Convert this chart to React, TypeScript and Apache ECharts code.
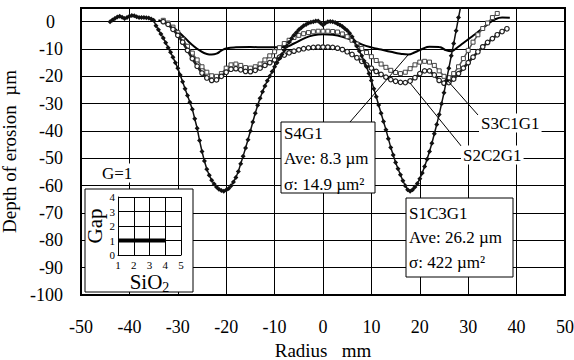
import React, { useEffect, useRef } from 'react';
import * as echarts from 'echarts';

const FONT = 'Liberation Serif';

const xMin = -50, xMax = 50, xStep = 10;
const yMin = -100, yMax = 5, yStep = 10;

const s1c3g1: number[][] = [
  [-44, 0], [-43.5, 0.6], [-43, 1.2], [-42.5, 1.7], [-42, 2], [-41.5, 1.6], [-41, 1.2], [-40.5, 1.5],
  [-40, 2], [-39.5, 2.3], [-39, 2.2], [-38.5, 1.8], [-38, 1.5], [-37.5, 1.5], [-37, 1.5], [-36.5, 1.4],
  [-36, 1.3], [-35.5, 1], [-35, 0.5], [-34.5, -1.5], [-34, -3], [-33.5, -4.5], [-33, -6], [-32.5, -7.7],
  [-32, -9.5], [-31.5, -11.2], [-31, -13], [-30.5, -15], [-30, -17], [-29.5, -19.5], [-29, -22], [-28.5, -24.5],
  [-28, -27], [-27.5, -29.5], [-27, -32], [-26.5, -35.5], [-26, -39], [-25.5, -43.5], [-25, -47.5], [-24.5, -51],
  [-24, -54], [-23.5, -56.2], [-23, -58], [-22.5, -59.4], [-22, -60.5], [-21.5, -61.3], [-21, -61.8], [-20.5, -62],
  [-20, -61.6], [-19.5, -61], [-19, -60], [-18.5, -58.7], [-18, -57], [-17.5, -54.8], [-17, -52], [-16.5, -49.2],
  [-16, -46.2], [-15.5, -43.2], [-15, -40], [-14.5, -36.7], [-14, -33.5], [-13.5, -30.6], [-13, -28], [-12.5, -25.6],
  [-12, -23.5], [-11.5, -21.6], [-11, -20], [-10.5, -18.2], [-10, -16.5], [-9.5, -15], [-9, -13.5], [-8.5, -12],
  [-8, -10.5], [-7.5, -9], [-7, -7.5], [-6.5, -6.2], [-6, -5], [-5.5, -4], [-5, -3], [-4.5, -2.2], [-4, -1.5],
  [-3.5, -1], [-3, -0.5], [-2.5, -0.2], [-2, 0], [-1.5, 0.2], [-1, 0.2], [-0.5, -0.5], [0, -1.2], [0.5, -0.5],
  [1, 0], [1.5, 0.1], [2, 0], [2.5, -0.3], [3, -0.8], [3.5, -1.2], [4, -1.8], [4.5, -2.5], [5, -3.2],
  [5.5, -4.2], [6, -5.5], [6.5, -7.2], [7, -9], [7.5, -10.7], [8, -12.5], [8.5, -14.4], [9, -16.5], [9.5, -19],
  [10, -21.5], [10.5, -24.5], [11, -27.5], [11.5, -30.5], [12, -33.5], [12.5, -36.5], [13, -39.5], [13.5, -42.8],
  [14, -46], [14.5, -48.8], [15, -51.5], [15.5, -53.8], [16, -56], [16.5, -58.2], [17, -60], [17.5, -61.5],
  [18, -62], [18.5, -61.5], [19, -60.5], [19.5, -59.2], [20, -57.5], [20.5, -55.4], [21, -53], [21.5, -50.3],
  [22, -47.5], [22.5, -44.5], [23, -41], [23.5, -37.6], [24, -34], [24.5, -30], [25, -26], [25.5, -21.5],
  [26, -17], [26.5, -12.5], [27, -8], [27.5, -3.3], [28, 1.5], [28.5, 6],
];

const s2c2g1: number[][] = [
  [-33, 0], [-32, -1], [-31, -2.8], [-30, -5], [-29, -7.5], [-28, -10.5], [-27, -13.5], [-26, -16.3],
  [-25, -18.8], [-24, -20.6], [-23, -21.5], [-22, -21.3], [-21, -20], [-20, -18.5], [-19, -17.4], [-18, -17.2],
  [-17, -17.6], [-16, -18.2], [-15, -18.3], [-14, -17.8], [-13, -17], [-12, -16], [-11, -15], [-10, -14],
  [-9, -13], [-8, -12.2], [-7, -11.4], [-6, -10.8], [-5, -10.3], [-4, -9.9], [-3, -9.6], [-2, -9.4],
  [-1, -9.3], [0, -9.3], [1, -9.3], [2, -9.4], [3, -9.7], [4, -10.2], [5, -11], [6, -12], [7, -13.2],
  [8, -14.5], [9, -15.8], [10, -17], [11, -18.2], [12, -19.3], [13, -20.3], [14, -21.2], [15, -21.8],
  [16, -22.2], [17, -22.3], [18, -21.7], [19, -20.5], [20, -19], [21, -18], [22, -18], [23, -19.5],
  [24, -21.5], [25, -22.5], [26, -22.3], [27, -21], [28, -19], [29, -17], [30, -15], [31, -13], [32, -11],
  [33, -9.2], [34, -7.6], [35, -6.2], [36, -4.8], [37, -3.6], [38, -2.6],
];

const s3c1g1: number[][] = [
  [-33, 0.5], [-32, -0.5], [-31, -2], [-30, -4], [-29, -6.5], [-28, -9], [-27, -11.5], [-26, -14],
  [-25, -16.5], [-24, -18.5], [-23, -19.8], [-22, -20], [-21, -19], [-20, -17], [-19, -15.8], [-18, -15.5],
  [-17, -16], [-16, -16.8], [-15, -17], [-14, -16.5], [-13, -15.5], [-12, -14], [-11, -12.5], [-10, -11],
  [-9, -9.5], [-8, -8], [-7, -6.8], [-6, -5.8], [-5, -5], [-4, -4.4], [-3, -4], [-2, -3.7], [-1, -3.5],
  [0, -3.5], [1, -3.5], [2, -3.6], [3, -3.8], [4, -4.5], [5, -5.5], [6, -6.8], [7, -8.2], [8, -9.8],
  [9, -11.3], [10, -12.8], [11, -14.2], [12, -15.5], [13, -16.7], [14, -17.8], [15, -18.6], [16, -19],
  [17, -18.5], [18, -17.2], [19, -15.8], [20, -14.8], [21, -14.5], [22, -14.8], [23, -16], [24, -18],
  [25, -20], [26, -20.5], [27, -19], [28, -16.5], [29, -13.5], [30, -10.5], [31, -7.5], [32, -4.8],
  [33, -2.5], [34, -0.5], [35, 1.5], [36, 3],
];

const s4g1: number[][] = [
  [-34, 0.5], [-32, -1], [-30, -3.5], [-28.5, -6], [-27, -8.5], [-25.5, -10.5], [-24, -11.8], [-23, -12],
  [-22, -11.7], [-21, -10.6], [-20, -9.8], [-18, -9.4], [-15, -9.3], [-12, -9.4], [-10, -9.4], [-8, -9.3],
  [-6, -8], [-4, -6.2], [-2, -5], [0, -4.6], [2, -4.8], [4, -5.5], [6, -6.8], [8, -8.3], [10, -9.4],
  [12, -10.2], [14, -11], [16, -11.7], [17.6, -12], [19, -11.2], [20.5, -10], [22, -9.2], [24, -9.3],
  [25.5, -10.5], [26.5, -10.8], [27.5, -9.8], [29, -7.8], [30.5, -5.8], [32, -3.8], [34, -1], [35.5, 0.8],
  [37, 1.5], [38.6, 1.4],
];

const insetGap: number[][] = [[1, 1], [4, 1]];

const yAxisName = 'Depth of erosion\u00a0\u00a0µm';
const xAxisName = 'Radius\u00a0\u00a0\u00a0mm';

export default function App() {
  const ref = useRef<HTMLDivElement>(null);
  useEffect(() => {
    if (!ref.current) return;
    const chart = echarts.init(ref.current, undefined, { renderer: 'svg' });
    const txt = (x: number, y: number, text: string, extra: any = {}) => ({
      type: 'text', x, y, z: 52,
      style: { text, fontFamily: FONT, fontSize: 17, fill: '#000', verticalAlign: 'middle', ...extra },
    });
    chart.setOption({
      animation: false,
      backgroundColor: '#fff',
      textStyle: { fontFamily: FONT, color: '#000' },
      grid: [
        { left: 81, right: 9, top: 8, bottom: 65, show: true, borderColor: '#000', borderWidth: 2, z: 3, containLabel: false, outerBoundsMode: 'none' },
        { left: 118, top: 197, width: 63, height: 58, show: false, z: 60, containLabel: false, outerBoundsMode: 'none' },
      ],
      xAxis: [
        {
          type: 'value', min: xMin, max: xMax, interval: xStep, gridIndex: 0,
          name: xAxisName, nameLocation: 'middle', nameGap: 44,
          nameTextStyle: { fontFamily: FONT, fontSize: 19, color: '#000' },
          axisLine: { show: false }, axisTick: { show: false },
          axisLabel: { fontFamily: FONT, fontSize: 18, color: '#000', margin: 23 },
          splitLine: { show: true, lineStyle: { color: '#000', width: 1 } },
        },
        {
          type: 'value', min: 1, max: 5, interval: 1, gridIndex: 1, z: 60,
          name: 'SiO{sub|2}', nameLocation: 'middle', nameGap: 15,
          nameTextStyle: {
            fontFamily: FONT, fontSize: 21, color: '#000',
            rich: { sub: { fontFamily: FONT, fontSize: 14, color: '#000', padding: [10, 0, 0, 0] } },
          },
          axisLine: { show: true, lineStyle: { color: '#000' } }, axisTick: { show: false },
          axisLabel: { fontFamily: FONT, fontSize: 11, color: '#000', margin: 4 },
          splitLine: { show: true, lineStyle: { color: '#000', width: 1 } },
        },
      ],
      yAxis: [
        {
          type: 'value', min: yMin, max: yMax, interval: yStep, gridIndex: 0,
          name: yAxisName, nameLocation: 'middle', nameGap: 48, nameRotate: 90,
          nameTextStyle: { fontFamily: FONT, fontSize: 19, color: '#000' },
          axisLine: { show: false }, axisTick: { show: false },
          axisLabel: {
            fontFamily: FONT, fontSize: 18, color: '#000', margin: 18,
            formatter: (v: number) => (v % 10 !== 0 ? '' : v === 0 ? '{z|0}' : String(v)),
            rich: { z: { fontFamily: FONT, fontSize: 18, color: '#000', padding: [0, 8, 0, 0] } },
          },
          splitLine: { show: true, lineStyle: { color: '#000', width: 1 } },
        },
        {
          type: 'value', min: 0, max: 4, interval: 1, gridIndex: 1, z: 60,
          name: 'Gap', nameLocation: 'middle', nameGap: 10, nameRotate: 90,
          nameTextStyle: { fontFamily: FONT, fontSize: 21, color: '#000' },
          axisLine: { show: true, lineStyle: { color: '#000' } }, axisTick: { show: false },
          axisLabel: { fontFamily: FONT, fontSize: 11, color: '#000', margin: 3 },
          splitLine: { show: true, lineStyle: { color: '#000', width: 1 } },
        },
      ],
      series: [
        {
          name: 'S4G1', type: 'line', data: s4g1, symbol: 'none', smooth: true, z: 4,
          lineStyle: { color: '#000', width: 2 },
        },
        {
          name: 'S3C1G1', type: 'line', data: s3c1g1, symbol: 'rect', symbolSize: 4, z: 5,
          lineStyle: { color: '#555', width: 1.5 },
          itemStyle: { color: '#fff', borderColor: '#444', borderWidth: 1 },
        },
        {
          name: 'S2C2G1', type: 'line', data: s2c2g1, symbol: 'circle', symbolSize: 4.5, z: 6,
          lineStyle: { color: '#222', width: 2.5 },
          itemStyle: { color: '#fff', borderColor: '#222', borderWidth: 1.2 },
        },
        {
          name: 'S1C3G1', type: 'line', data: s1c3g1, symbol: 'diamond', symbolSize: 5, z: 7,
          lineStyle: { color: '#111', width: 1.5 },
          itemStyle: { color: '#111' },
        },
        {
          name: 'Gap', type: 'line', data: insetGap, xAxisIndex: 1, yAxisIndex: 1, symbol: 'none', z: 62,
          lineStyle: { color: '#000', width: 4 },
        },
      ],
      graphic: [
        { type: 'rect', z: 50, shape: { x: 85, y: 189, width: 108, height: 103 }, style: { fill: '#fff', stroke: '#000', lineWidth: 1 } },
        txt(100, 173, 'G=1', { backgroundColor: '#fff', padding: [1, 2] }),
        { type: 'line', z: 51, shape: { x1: 350, y1: 122, x2: 408, y2: 55 }, style: { stroke: '#000', lineWidth: 1 } },
        { type: 'line', z: 51, shape: { x1: 478, y1: 115, x2: 447, y2: 80 }, style: { stroke: '#000', lineWidth: 1 } },
        { type: 'line', z: 51, shape: { x1: 462, y1: 147, x2: 410, y2: 83 }, style: { stroke: '#000', lineWidth: 1 } },
        { type: 'rect', z: 51, shape: { x: 281, y: 122, width: 94, height: 71 }, style: { fill: '#fff', stroke: '#000', lineWidth: 1 } },
        txt(284, 133, 'S4G1'),
        txt(284, 158, 'Ave: 8.3 µm'),
        txt(284, 184, 'σ: 14.9 µm²'),
        { type: 'rect', z: 51, shape: { x: 406, y: 198, width: 107, height: 79 }, style: { fill: '#fff', stroke: '#000', lineWidth: 1 } },
        txt(409, 213, 'S1C3G1'),
        txt(409, 237, 'Ave: 26.2 µm'),
        txt(409, 262, 'σ: 422 µm²'),
        txt(479, 123, 'S3C1G1', { backgroundColor: '#fff', padding: [1, 2] }),
        txt(461, 155, 'S2C2G1', { backgroundColor: '#fff', padding: [1, 2] }),
      ],
    });
    return () => chart.dispose();
  }, []);
  return <div ref={ref} style={{ width: 574, height: 360, position: 'absolute', left: 0, top: 0 }} />;
}
